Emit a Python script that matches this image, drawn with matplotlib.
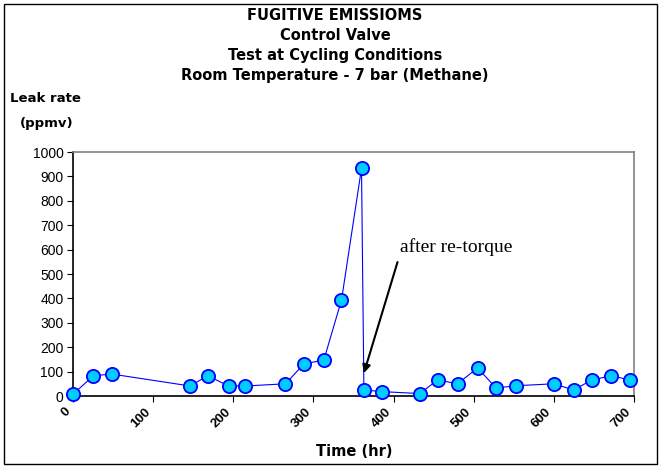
import matplotlib
matplotlib.use("Agg")
import matplotlib.pyplot as plt
from matplotlib.patches import Rectangle

# time (hr) and leak rate (ppmv)
time_hr = [0, 25, 48, 146, 168, 194, 215, 265, 288, 313, 335, 360,
           363, 385, 433, 455, 480, 505, 528, 553, 600, 625, 648, 672, 695]
leak_ppmv = [8, 83, 90, 41, 83, 41, 41, 50, 131, 148, 393, 933,
             25, 18, 10, 66, 50, 115, 33, 42, 50, 25, 66, 83, 66]

x_ticks = [0, 100, 200, 300, 400, 500, 600, 700]
y_ticks = [0, 100, 200, 300, 400, 500, 600, 700, 800, 900, 1000]

title_lines = ["FUGITIVE EMISSIOMS", "Control Valve",
               "Test at Cycling Conditions", "Room Temperature - 7 bar (Methane)"]

plt.rcParams['font.family'] = ['Liberation Sans', 'DejaVu Sans']

fig = plt.figure(figsize=(6.62, 4.68), dpi=100)
ax = fig.add_axes([73.3 / 662, 1 - 396 / 468, (633.7 - 73.3) / 662, (396 - 152) / 468])

ax.plot(time_hr, leak_ppmv, color='#0000FF', lw=0.8, marker='o', markersize=9.5,
        markerfacecolor='#00CCFF', markeredgecolor='#0000FF', markeredgewidth=1.3,
        clip_on=False, zorder=3)

ax.set_xlim(0, 700)
ax.set_ylim(0, 1000)
ax.set_xticks(x_ticks)
ax.set_yticks(y_ticks)
ax.set_xticklabels([str(t) for t in x_ticks], rotation=45, ha='right', fontsize=9.5,
                   fontweight='bold')
ax.set_yticklabels([str(t) for t in y_ticks], fontsize=10)
ax.tick_params(axis='both', direction='out', length=4, width=0.8, pad=3)

for side in ['left', 'bottom']:
    ax.spines[side].set_linewidth(1.2)
    ax.spines[side].set_color('black')
for side in ['top', 'right']:
    ax.spines[side].set_linewidth(1.2)
    ax.spines[side].set_color('#808080')

fig.text(354 / 662, 1 - 452 / 468, "Time (hr)", ha='center', va='center',
         fontsize=10.5, fontweight='bold', family='DejaVu Sans')

# titles and y label as figure text
for i, line in enumerate(title_lines):
    fig.text(335 / 662, 1 - (16 + 19.7 * i) / 468, line, ha='center', va='center',
             fontsize=10.5, fontweight='bold', family='DejaVu Sans')
fig.text(10 / 662, 1 - 99 / 468, "Leak rate", ha='left', va='center',
         fontsize=9.5, fontweight='bold', family='DejaVu Sans')
fig.text(20 / 662, 1 - 123 / 468, "(ppmv)", ha='left', va='center',
         fontsize=9.5, fontweight='bold', family='DejaVu Sans')

ax.text(408, 590, "after re-torque", fontsize=14, family='Liberation Serif',
        ha='left', va='baseline')
ax.annotate("", xy=(363, 94), xytext=(405, 549),
            arrowprops=dict(arrowstyle='-|>', color='black', lw=1.5,
                            shrinkA=0, shrinkB=0, mutation_scale=12))

fig.patches.append(Rectangle((4 / 662, 4 / 468), 653 / 662, 460 / 468,
                             transform=fig.transFigure, fill=False,
                             edgecolor='black', lw=1))

fig.savefig("out.png", dpi=100)
